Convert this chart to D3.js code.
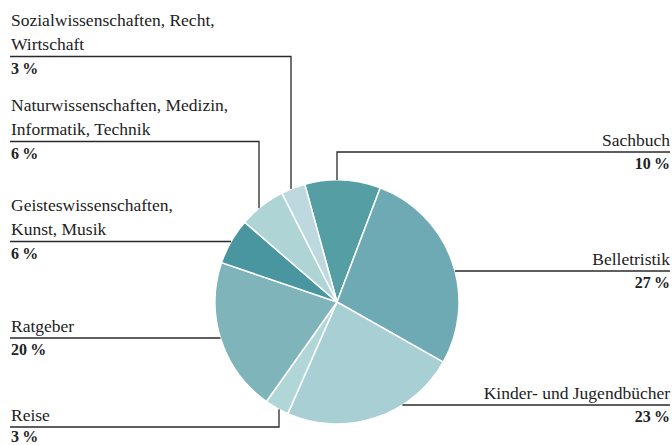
<!DOCTYPE html>
<html><head><meta charset="utf-8">
<script src="https://cdn.jsdelivr.net/npm/d3@7"></script>
<style>
html,body{margin:0;padding:0;background:#fff;}
svg{display:block;}
</style></head>
<body>
<script>
// Data
const categories = ["Sachbuch","Belletristik","Kinder- und Jugendbücher","Reise","Ratgeber",
  "Geisteswissenschaften, Kunst, Musik","Naturwissenschaften, Medizin, Informatik, Technik",
  "Sozialwissenschaften, Recht, Wirtschaft"];
const shares = [10.0, 27.4, 23.4, 3.2, 20.4, 6.1, 6.2, 3.2];
const labelLines = [
  ["Sachbuch"],
  ["Belletristik"],
  ["Kinder- und Jugendbücher"],
  ["Reise"],
  ["Ratgeber"],
  ["Geisteswissenschaften,","Kunst, Musik"],
  ["Naturwissenschaften, Medizin,","Informatik, Technik"],
  ["Sozialwissenschaften, Recht,","Wirtschaft"]
];
const colors = ["#559ea4","#6eaab3","#a7cfd4","#b1d6d8","#7fb4ba","#4a96a0","#afd4d6","#bdd9df"];

// Layout (label placement: side, underline y, optional vertical elbow x)
const W = 672, H = 445;
const cx = 337, cy = 302, R = 122;
const layout = [
  {side:"right", uy:152, ex:337},
  {side:"right", uy:271},
  {side:"right", uy:405},
  {side:"left",  uy:427, ex:279},
  {side:"left",  uy:338},
  {side:"left",  uy:241.5},
  {side:"left",  uy:141.5, ex:259},
  {side:"left",  uy:56.5, ex:291}
];
const leftX = 11, rightX = 670, lineH = 24.5;
const FONT = "'Liberation Serif', 'DejaVu Serif', serif";

const svg = d3.select("body").append("svg").attr("width", W).attr("height", H);

const startDeg = -15.3;
const pie = d3.pie().sort(null).value(d => d)
  .startAngle(startDeg*Math.PI/180).endAngle(startDeg*Math.PI/180 + 2*Math.PI);
const arcs = pie(shares);
const arc = d3.arc().innerRadius(0).outerRadius(R);

const g = svg.append("g").attr("transform", `translate(${cx},${cy})`);
g.selectAll("path").data(arcs).join("path")
  .attr("d", arc)
  .attr("fill", (d,i) => colors[i])
  .attr("stroke", "#fff").attr("stroke-width", 1.5).attr("stroke-linejoin","round");

// Leaders & labels
const lines = svg.append("g").attr("fill","none").attr("stroke","#2a2a2a").attr("stroke-width",1.3);
const labels = svg.append("g").attr("font-family", FONT).attr("fill", "#222");

layout.forEach((L, i) => {
  let pts;
  const xs = L.side === "left" ? leftX - 1 : rightX;
  if (L.ex !== undefined) {
    const dx = L.ex - cx;
    const h = Math.sqrt(R*R - dx*dx);
    const yEdge = L.uy < cy ? cy - h : cy + h;
    pts = [[xs, L.uy],[L.ex, L.uy],[L.ex, yEdge]];
  } else {
    const dy = L.uy - cy;
    const w = Math.sqrt(R*R - dy*dy);
    const xEdge = L.side === "left" ? cx - w : cx + w;
    pts = [[xs, L.uy],[xEdge, L.uy]];
  }
  lines.append("path").attr("d", d3.line()(pts));

  const anchor = L.side === "left" ? "start" : "end";
  const tx = L.side === "left" ? leftX : rightX;
  const ls = labelLines[i];
  ls.forEach((s, j) => {
    labels.append("text")
      .attr("x", tx).attr("y", L.uy - 6.5 - (ls.length - 1 - j)*lineH)
      .attr("text-anchor", anchor)
      .attr("font-size", 17.5)
      .text(s);
  });
  labels.append("text")
    .attr("x", tx).attr("y", Math.min(L.uy + 17, 442))
    .attr("text-anchor", anchor)
    .attr("font-size", 16).attr("font-weight", "bold")
    .text(Math.round(shares[i]) + "\u2009%");
});
</script>
</body></html>
